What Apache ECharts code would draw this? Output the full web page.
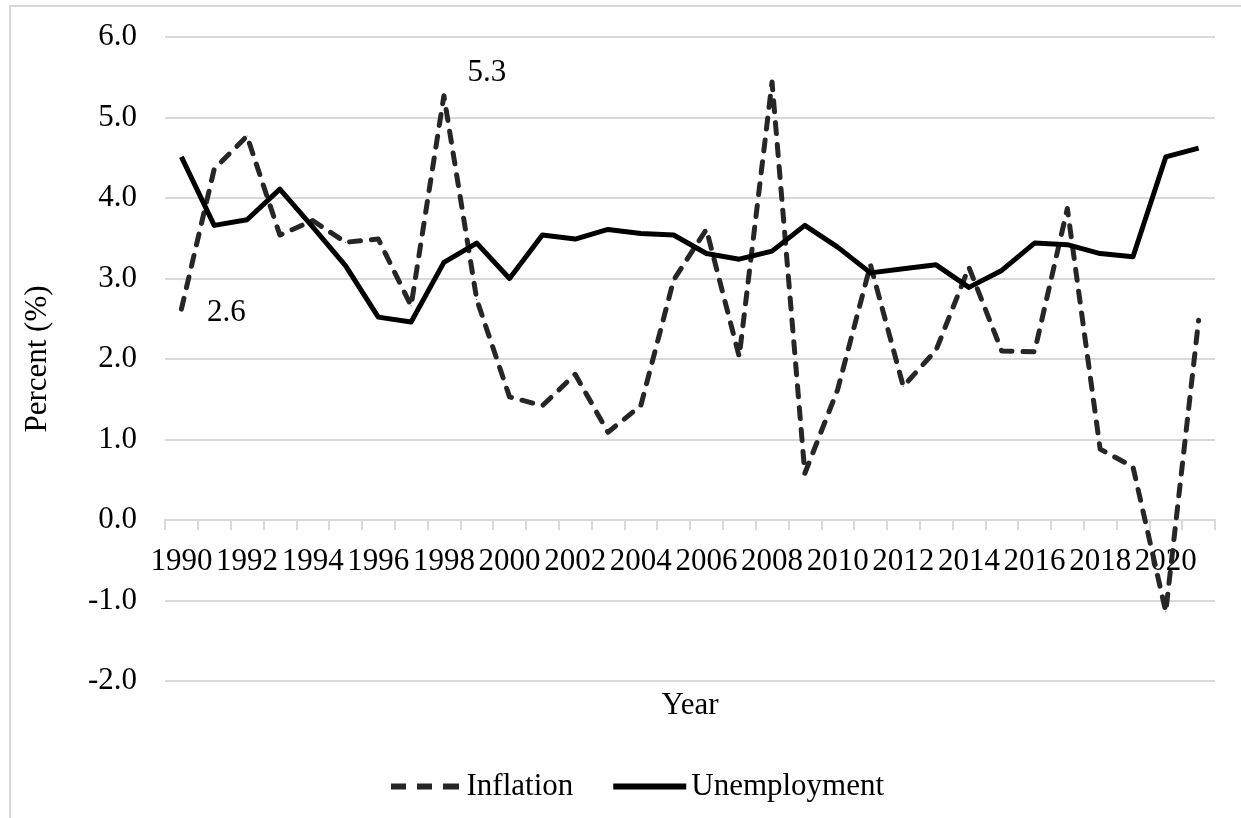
<!DOCTYPE html>
<html>
<head>
<meta charset="utf-8">
<script type="text/javascript" src="https://cdn.jsdelivr.net/npm/echarts@6/dist/echarts.min.js"></script>
<style type="text/css">
	body { margin: 0; background: #fff; }
	#chart { width: 1241px; height: 818px; }
	#frame {
		position: absolute; left: 9px; top: 5px; width: 1240px; height: 820px;
		border-top: 2px solid #d9d9d9; border-left: 2px solid #d9d9d9;
		pointer-events: none;
	}
</style>
<title>Inflation and Unemployment</title>
</head>
<body>
<div id="chart"></div>
<div id="frame"></div>
<script type="text/javascript">

// values
let years = ['1990','1991','1992','1993','1994','1995','1996','1997','1998','1999',
	'2000','2001','2002','2003','2004','2005','2006','2007','2008','2009',
	'2010','2011','2012','2013','2014','2015','2016','2017','2018','2019',
	'2020','2021'];

let inflation = [2.62, 4.36, 4.77, 3.54, 3.72, 3.45, 3.49, 2.66, 5.27, 2.74,
	1.53, 1.42, 1.81, 1.09, 1.42, 2.98, 3.61, 2.03, 5.44, 0.58,
	1.62, 3.17, 1.66, 2.11, 3.14, 2.10, 2.09, 3.87, 0.88, 0.66,
	-1.14, 2.48];

let unemployment = [4.51, 3.66, 3.73, 4.11, 3.64, 3.16, 2.52, 2.46, 3.20, 3.44,
	3.00, 3.54, 3.49, 3.61, 3.56, 3.54, 3.31, 3.24, 3.34, 3.66,
	3.39, 3.07, 3.12, 3.17, 2.89, 3.10, 3.44, 3.42, 3.31, 3.27,
	4.51, 4.62];

// only these points carry a data label
let labelYears = ['1990', '1998'];

let font = '"Liberation Serif", "Times New Roman", serif';
let fs = 31;

function inflationData() {
	let out = [];
	for (let i = 0; i < years.length; i++) {
		let v = inflation[i];
		if (labelYears.indexOf(years[i]) >= 0) {
			let off = years[i] === '1990' ? [20, 4] : [18, -23];
			out.push({
				value: v,
				label: { show: true, position: 'right', offset: off }
			});
		} else {
			out.push(v);
		}
	}
	return out;
}

// the x axis crosses the value axis at 0: lift it from the bottom edge
// by the height of two units (plot height 644px over 8 units)
let plotTop = 37, plotBottom = 137;
let unitPx = (818 - plotTop - plotBottom) / 8;

let option = {
	animation: false,
	backgroundColor: '#fff',
	textStyle: { fontFamily: font },
	grid: { left: 165, right: 26, top: plotTop, bottom: plotBottom, containLabel: false, outerBoundsMode: 'none' },
	legend: {
		left: 386,
		top: 766,
		itemWidth: 73,
		itemHeight: 6,
		itemGap: 40,
		textStyle: { fontFamily: font, fontSize: fs, color: '#000' },
		data: [
			{ name: 'Inflation', icon: 'path://M0,0h15v6h-15z M26,0h15v6h-15z M52,0h16v6h-16z' },
			{ name: 'Unemployment', icon: 'rect' }
		]
	},
	xAxis: {
		type: 'category',
		data: years,
		boundaryGap: true,
		offset: -2 * unitPx,
		name: 'Year',
		nameLocation: 'middle',
		nameGap: 170,
		nameTextStyle: { fontFamily: font, fontSize: fs, color: '#000' },
		axisLine: { onZero: false, lineStyle: { color: '#d9d9d9', width: 2 } },
		axisTick: { show: true, interval: 0, length: 10, lineStyle: { color: '#d9d9d9', width: 2 } },
		axisLabel: {
			interval: 1,
			margin: 26,
			fontFamily: font,
			fontSize: fs,
			color: '#000'
		},
		splitLine: { show: false }
	},
	yAxis: {
		type: 'value',
		min: -2,
		max: 6,
		interval: 1,
		name: 'Percent (%)',
		nameLocation: 'middle',
		nameGap: 112,
		nameTextStyle: { fontFamily: font, fontSize: fs, color: '#000' },
		axisLine: { show: false },
		axisTick: { show: false },
		axisLabel: {
			margin: 28,
			fontFamily: font,
			fontSize: fs,
			color: '#000',
			formatter: function (v) { return v.toFixed(1); }
		},
		splitLine: { lineStyle: { color: '#d9d9d9', width: 2 } }
	},
	series: [
		{
			name: 'Inflation',
			type: 'line',
			data: inflationData(),
			symbol: 'circle',
			symbolSize: 1,
			showSymbol: true,
			showAllSymbol: true,
			color: '#262626',
			lineStyle: { color: '#262626', width: 5, type: [11, 11], cap: 'round', join: 'round' },
			label: {
				fontFamily: font,
				fontSize: fs,
				color: '#000',
				formatter: function (p) { return p.value.toFixed(1); }
			}
		},
		{
			name: 'Unemployment',
			type: 'line',
			data: unemployment,
			symbol: 'none',
			color: '#000',
			lineStyle: { color: '#000', width: 5, join: 'round' }
		}
	]
};

let myChart = echarts.init(document.getElementById('chart'), null, { renderer: 'canvas' });
myChart.setOption(option);
</script>
</body>
</html>
